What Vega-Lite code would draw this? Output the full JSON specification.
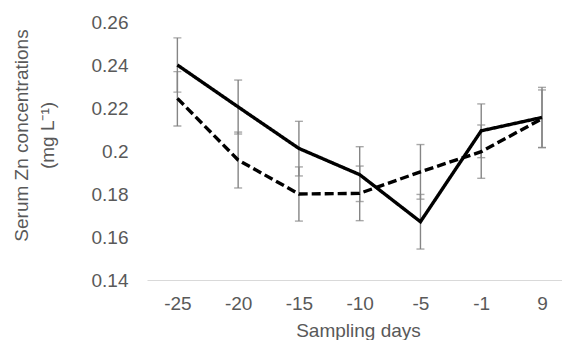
{
  "$schema": "https://vega.github.io/schema/vega-lite/v6.json",
  "width": 415,
  "height": 258,
  "autosize": {"type": "none"},
  "padding": {"left": 147, "top": 22, "right": 0, "bottom": 60},
  "background": "white",
  "config": {
    "view": {"stroke": null},
    "font": "Liberation Sans",
    "axis": {"labelFont": "Liberation Sans", "titleFont": "Liberation Sans", "labelColor": "#595959", "titleColor": "#595959", "labelFontSize": 19, "titleFontSize": 19, "titleFontWeight": "normal", "grid": false, "ticks": false, "tickSize": 0}
  },
  "data": {
    "values": [
      {"day": "-25", "series": "A", "mean": 0.240, "lo": 0.2274, "hi": 0.2526},
      {"day": "-20", "series": "A", "mean": 0.2205, "lo": 0.2079, "hi": 0.2330},
      {"day": "-15", "series": "A", "mean": 0.2012, "lo": 0.1884, "hi": 0.2138},
      {"day": "-10", "series": "A", "mean": 0.1890, "lo": 0.1765, "hi": 0.2020},
      {"day": "-5", "series": "A", "mean": 0.1671, "lo": 0.1544, "hi": 0.1798},
      {"day": "-1", "series": "A", "mean": 0.2094, "lo": 0.1969, "hi": 0.2219},
      {"day": "9", "series": "A", "mean": 0.2156, "lo": 0.2016, "hi": 0.2296},
      {"day": "-25", "series": "B", "mean": 0.2245, "lo": 0.2116, "hi": 0.2369},
      {"day": "-20", "series": "B", "mean": 0.1958, "lo": 0.1828, "hi": 0.2088},
      {"day": "-15", "series": "B", "mean": 0.1800, "lo": 0.1674, "hi": 0.1926},
      {"day": "-10", "series": "B", "mean": 0.1803, "lo": 0.1676, "hi": 0.1930},
      {"day": "-5", "series": "B", "mean": 0.1903, "lo": 0.1776, "hi": 0.2030},
      {"day": "-1", "series": "B", "mean": 0.1997, "lo": 0.1873, "hi": 0.2121},
      {"day": "9", "series": "B", "mean": 0.2150, "lo": 0.2016, "hi": 0.2284}
    ]
  },
  "encoding": {
    "x": {
      "field": "day", "type": "ordinal",
      "sort": ["-25", "-20", "-15", "-10", "-5", "-1", "9"],
      "scale": {"type": "point", "padding": 0.4145, "align": 0.603},
      "axis": {
        "title": "Sampling days", "labelAngle": 0, "labelPadding": 14,
        "domain": true, "domainColor": "#d9d9d9", "domainWidth": 1.2,
        "titleBaseline": "top", "titleY": 41, "titleX": 211
      }
    },
    "y": {
      "field": "mean", "type": "quantitative",
      "scale": {"domain": [0.14, 0.26], "nice": false, "zero": false},
      "axis": {
        "title": ["Serum Zn concentrations", "(mg L⁻¹)"],
        "values": [0.14, 0.16, 0.18, 0.2, 0.22, 0.24, 0.26],
        "format": ".2~f",
        "domain": false,
        "labelPadding": 19,
        "titleAngle": -90, "titleAlign": "center", "titleBaseline": "top",
        "titleLineHeight": 26,
        "titleX": -135, "titleY": 113
      }
    }
  },
  "layer": [
    {
      "mark": {"type": "rule", "color": "#858585", "strokeWidth": 1.4},
      "encoding": {
        "y": {"field": "lo", "type": "quantitative"},
        "y2": {"field": "hi"}
      }
    },
    {
      "mark": {"type": "tick", "color": "#858585", "size": 8, "thickness": 1.4},
      "encoding": {"y": {"field": "lo", "type": "quantitative"}}
    },
    {
      "mark": {"type": "tick", "color": "#858585", "size": 8, "thickness": 1.4},
      "encoding": {"y": {"field": "hi", "type": "quantitative"}}
    },
    {
      "mark": {"type": "line", "color": "black", "strokeWidth": 3.4},
      "encoding": {
        "detail": {"field": "series"},
        "strokeDash": {"field": "series", "type": "nominal", "scale": {"domain": ["A", "B"], "range": [[1, 0], [9, 4]]}, "legend": null}
      }
    }
  ]
}
